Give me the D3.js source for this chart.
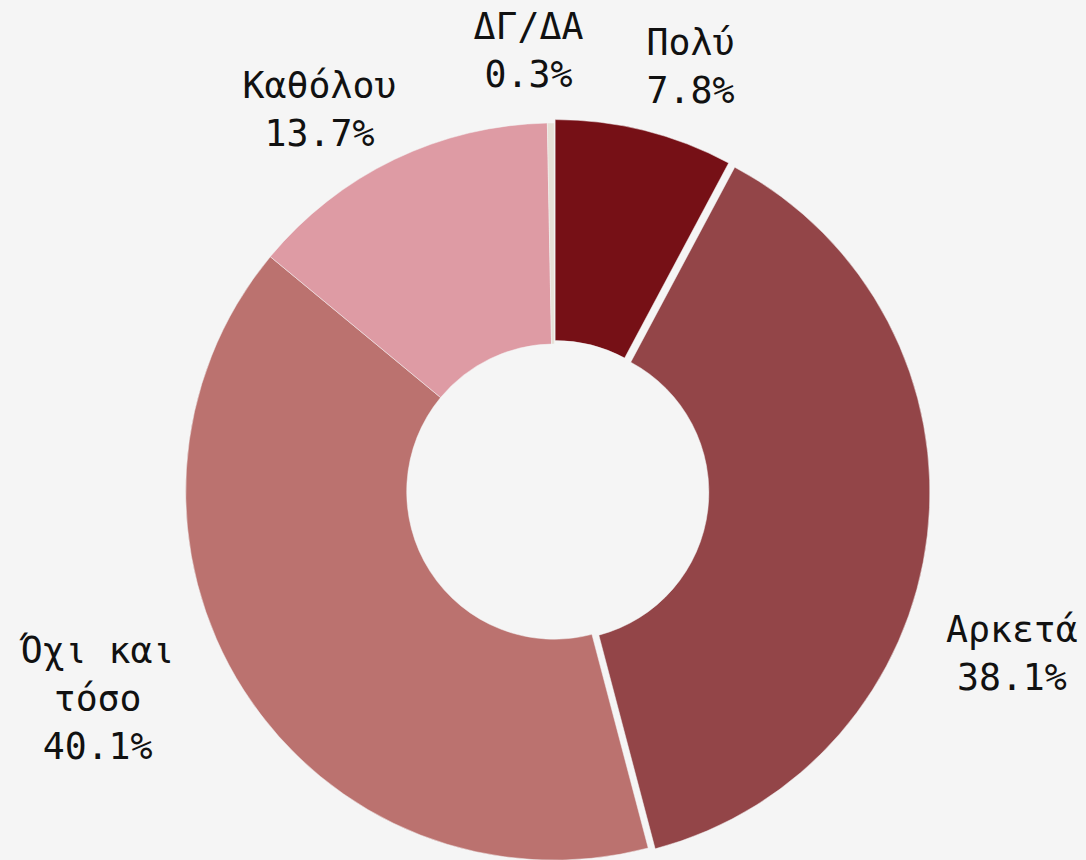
<!DOCTYPE html>
<html>
<head>
<meta charset="utf-8">
<script src="https://cdnjs.cloudflare.com/ajax/libs/d3/7.8.5/d3.min.js"></script>
<style>
  html, body { margin: 0; padding: 0; background: #f5f5f5; }
  svg { display: block; }
</style>
</head>
<body>
<svg id="chart"></svg>
<script>
// data
var categories = ['Πολύ', 'Αρκετά', 'Όχι και τόσο', 'Καθόλου', 'ΔΓ/ΔΑ'];
var values = [7.8, 38.1, 40.1, 13.7, 0.3];
var labelLines = [['Πολύ'], ['Αρκετά'], ['Όχι και', 'τόσο'], ['Καθόλου'], ['ΔΓ/ΔΑ']];

var colors = ['#761016', '#934548', '#bb726f', '#de9ba4', '#e6e0d6'];

var width = 1086;
var height = 860;
var cx = 554.3, cy = 491.6;
var outerR = 368.6, innerR = 147.6;

// slices pulled out a bit from the centre
var explode = {'Πολύ': 3.5, 'Αρκετά': 7};

// label placement: angle tweak (deg) from mid angle, and distance from centre
var labelPos = {
  'Πολύ':         {da: 3.7,   r: 447},
  'Αρκετά':       {da: 12.7,  r: 485},
  'Όχι και τόσο': {da: 8.3,   r: 501},
  'Καθόλου':      {da: -5.8,  r: 449},
  'ΔΓ/ΔΑ':        {da: -2.8,  r: 443}
};

var lineH = 48;
var fontSize = 36.5;

var svg = d3.select('#chart')
  .attr('width', width)
  .attr('height', height);

svg.append('rect')
  .attr('width', width)
  .attr('height', height)
  .attr('fill', '#f5f5f5');

var data = categories.map(function(c, i) {
  return {name: c, value: values[i], lines: labelLines[i], color: colors[i]};
});

var pie = d3.pie()
  .sort(null)
  .value(function(d) { return d.value; });

var arc = d3.arc()
  .innerRadius(innerR)
  .outerRadius(outerR);

var g = svg.append('g')
  .attr('transform', 'translate(' + cx + ',' + cy + ')');

var arcs = pie(data);

g.selectAll('path')
  .data(arcs)
  .enter().append('path')
    .attr('d', arc)
    .attr('fill', function(d) { return d.data.color; })
    .attr('stroke', '#f5f5f5')
    .attr('stroke-width', 0.5)
    .attr('transform', function(d) {
      var off = explode[d.data.name] || 0;
      var a = (d.startAngle + d.endAngle) / 2;
      return 'translate(' + (Math.sin(a) * off) + ',' + (-Math.cos(a) * off) + ')';
    });

// labels
var labels = g.selectAll('text')
  .data(arcs)
  .enter().append('text')
    .attr('font-family', '"DejaVu Sans Mono", "Liberation Mono", monospace')
    .attr('font-size', fontSize)
    .attr('fill', '#111')
    .attr('text-anchor', 'middle')
    .attr('transform', function(d) {
      var p = labelPos[d.data.name];
      var a = (d.startAngle + d.endAngle) / 2 + p.da * Math.PI / 180;
      return 'translate(' + (Math.sin(a) * p.r) + ',' + (-Math.cos(a) * p.r) + ')';
    });

labels.each(function(d) {
  var lines = d.data.lines.concat([d.data.value.toFixed(1) + '%']);
  var n = lines.length;
  var first = -(n - 1) * lineH / 2 + fontSize * 0.37;
  d3.select(this).selectAll('tspan')
    .data(lines)
    .enter().append('tspan')
      .attr('x', 0)
      .attr('y', function(t, i) { return first + i * lineH; })
      .text(function(t) { return t; });
});
</script>
</body>
</html>
